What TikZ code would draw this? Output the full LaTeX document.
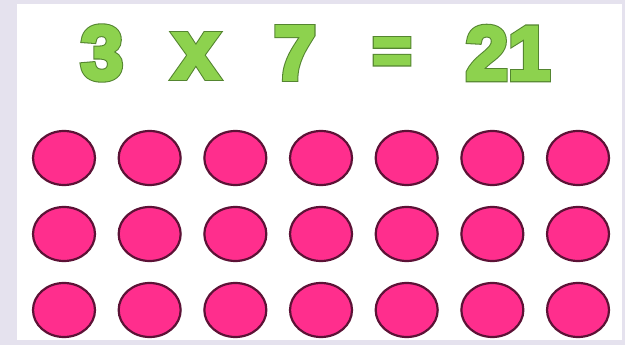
\documentclass[tikz,border=0pt]{standalone}
\usepackage{xcolor}
\usepackage{fontspec}
\setmainfont{Liberation Sans}
\usepackage{tikz}
\usetikzlibrary{shapes.geometric}
\definecolor{arkaLila}{HTML}{E5E2EE}
\definecolor{yaziYesil}{HTML}{8DD24E}
\definecolor{pembe}{HTML}{FF2E8D}
\definecolor{koyuMor}{HTML}{5C1236}
% glyph rim (dark, wide stroke) and glyph body (green, narrower stroke)
\newcommand{\kenar}[1]{\special{pdf:literal direct 2 Tr 5.5 w 0.33 0.52 0.19 RG}#1\special{pdf:literal direct 0 Tr}}
\newcommand{\govde}[1]{\special{pdf:literal direct 2 Tr 3.4 w 0.553 0.824 0.306 RG}#1\special{pdf:literal direct 0 Tr}}

\begin{document}
\begin{tikzpicture}[x=1pt,y=-1pt,
  rakam/.style={text=yaziYesil,font=\fontsize{76}{76}\selectfont\bfseries,inner sep=0pt},
  top/.style={ellipse,draw=koyuMor,line width=2.2pt,fill=pembe,
    minimum width=62pt,minimum height=54pt,inner sep=0pt}]
% zemin ve beyaz levha
\fill[arkaLila] (0,0) rectangle (625,345);
\fill[white] (17,4) rectangle (622,340);
\useasboundingbox (0,0) rectangle (625,345);
% islem satiri (once kenar, sonra govde)
\foreach \ad/\x/\y/\yazi in {uc/102/53/3, yedi/295/53/7, sonuc/508/53/21} {
  \node[rakam] (\ad) at (\x,\y) {\kenar{\yazi}};
  \node[rakam] (\ad-ic) at (\x,\y) {\govde{\yazi}};
}
\node[rakam,font=\fontsize{66}{66}\selectfont\bfseries] (esit) at (392,56) {\kenar{=}};
\node[rakam,font=\fontsize{66}{66}\selectfont\bfseries] (esit-ic) at (392,56) {\govde{=}};
\node[rakam,font=\fontsize{84}{84}\selectfont\bfseries] (carpi) at (196,56) {\kenar{x}};
\node[rakam,font=\fontsize{84}{84}\selectfont\bfseries] (carpi-ic) at (196,56) {\govde{x}};
% 3 satir x 7 sutun top
\foreach \r [count=\ri] in {158,234,310} {
  \foreach \c in {1,...,7} {
    \node[top] (t-\ri-\c) at ({64+85.67*(\c-1)},\r) {};
  }
}
\end{tikzpicture}
\end{document}
